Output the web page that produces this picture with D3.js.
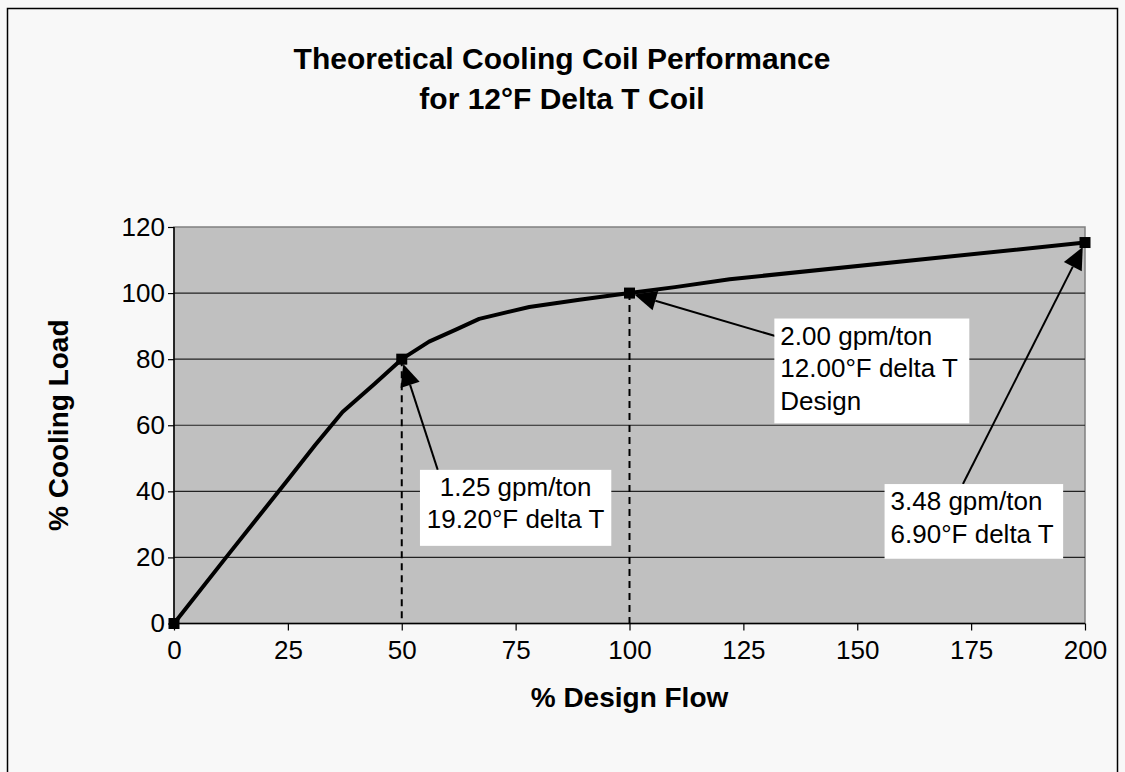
<!DOCTYPE html>
<html>
<head>
<meta charset="utf-8">
<script src="https://cdn.jsdelivr.net/npm/d3@7"></script>
<style>
  html, body { margin: 0; padding: 0; background: #f8f8f8; }
  svg { display: block; font-family: "Liberation Sans", Arial, sans-serif; }
</style>
</head>
<body>
<svg id="chart" width="1125" height="772"></svg>
<script>
// chart values
var flowPct = [0, 12, 25, 31, 37, 44, 50, 56, 62, 67, 78, 89, 100, 110, 122, 200];
var loadPct = [0, 21, 43.5, 54, 64, 72.5, 80, 85.3, 89, 92.2, 95.8, 98, 100, 101.8, 104.2, 115.3];
var markedFlow = [0, 50, 100, 200];
var dropFlow = [50, 100];
var xTicks = [0, 25, 50, 75, 100, 125, 150, 175, 200];
var yTicks = [0, 20, 40, 60, 80, 100, 120];
var titleLines = ['Theoretical Cooling Coil Performance', 'for 12°F Delta T Coil'];
var noteLines = [
    ['1.25 gpm/ton', '19.20°F delta T'],
    ['2.00 gpm/ton', '12.00°F delta T', 'Design'],
    ['3.48 gpm/ton', '6.90°F delta T']
];
var noteTarget = [[50, 80], [100, 100], [200, 115.3]];

// layout of the note boxes, in data units (x0, x1, yTop, yBottom) + arrow start
var noteBox = [[54, 96, 46.5, 23.5], [131.8, 174.6, 92.3, 60.6], [156, 195.2, 42.2, 19.6]];
var noteFrom = [[57.9, 46.5], [132, 87], [173.2, 42.2]];
var noteAlign = ['middle', 'start', 'start'];

function main() {
    var svg = d3.select('#chart');
    var left = 174, right = 1085, top = 227, bottom = 623.5;

    var x = d3.scaleLinear().domain([0, 200]).range([left, right]);
    var y = d3.scaleLinear().domain([0, 120]).range([bottom, top]);

    // outer frame
    svg.append('rect').attr('x', 7.5).attr('y', 8.5).attr('width', 1110).attr('height', 780)
        .attr('fill', '#f8f8f8').attr('stroke', '#000').attr('stroke-width', 1.5);

    // plot area
    svg.append('rect').attr('x', left).attr('y', top)
        .attr('width', right - left).attr('height', bottom - top)
        .attr('fill', '#c0c0c0').attr('stroke', '#808080').attr('stroke-width', 1.5);

    svg.append('g').selectAll('line').data(yTicks.slice(1, -1)).enter().append('line')
        .attr('x1', left).attr('x2', right)
        .attr('y1', function(d) { return y(d); }).attr('y2', function(d) { return y(d); })
        .attr('stroke', '#222').attr('stroke-width', 1.2);

    var xAxis = svg.append('g').attr('transform', 'translate(0,' + bottom + ')')
        .call(d3.axisBottom(x).tickValues(xTicks).tickSize(7).tickPadding(10));
    var yAxis = svg.append('g').attr('transform', 'translate(' + left + ',0)')
        .call(d3.axisLeft(y).tickValues(yTicks).tickSize(6).tickPadding(3));
    [xAxis, yAxis].forEach(function(a) {
        a.selectAll('path').attr('stroke', '#000').attr('stroke-width', 1.5);
        a.selectAll('line').attr('stroke', '#000').attr('stroke-width', 1.2);
        a.selectAll('text').attr('font-size', 26).attr('fill', '#000')
            .attr('font-family', '"Liberation Sans", Arial, sans-serif');
    });
    xAxis.select('.domain').attr('d', 'M' + left + ',0H' + right);
    yAxis.select('.domain').attr('d', 'M0,' + top + 'V' + bottom);

    // dashed drop lines
    svg.append('g').selectAll('line').data(dropFlow).enter().append('line')
        .attr('x1', function(d) { return x(d); }).attr('x2', function(d) { return x(d); })
        .attr('y1', function(d) { return y(loadPct[flowPct.indexOf(d)]); }).attr('y2', bottom)
        .attr('stroke', '#000').attr('stroke-width', 2).attr('stroke-dasharray', '7,5');

    // curve
    var pts = flowPct.map(function(f, i) { return [f, loadPct[i]]; });
    svg.append('path').datum(pts)
        .attr('d', d3.line().x(function(d) { return x(d[0]); }).y(function(d) { return y(d[1]); }))
        .attr('fill', 'none').attr('stroke', '#000').attr('stroke-width', 4).attr('stroke-linejoin', 'round');

    svg.append('g').selectAll('rect').data(pts.filter(function(d) { return markedFlow.indexOf(d[0]) >= 0; }))
        .enter().append('rect')
        .attr('x', function(d) { return x(d[0]) - 5.5; }).attr('y', function(d) { return y(d[1]) - 5.5; })
        .attr('width', 11).attr('height', 11).attr('fill', '#000');

    // note boxes and arrows
    noteLines.forEach(function(lines, i) {
        var b = noteBox[i];
        var bx = x(b[0]), by = y(b[2]), bw = x(b[1]) - x(b[0]), bh = y(b[3]) - y(b[2]);
        var fx = x(noteFrom[i][0]), fy = y(noteFrom[i][1]);
        var tx = x(noteTarget[i][0]), ty = y(noteTarget[i][1]);
        var ang = Math.atan2(ty - fy, tx - fx);
        // stop the arrow at the marker edge
        var tipX = tx - Math.cos(ang) * 5, tipY = ty - Math.sin(ang) * 5;
        var headL = 22, headW = 10;
        var baseX = tipX - Math.cos(ang) * headL, baseY = tipY - Math.sin(ang) * headL;

        svg.append('line').attr('x1', fx).attr('y1', fy).attr('x2', baseX).attr('y2', baseY)
            .attr('stroke', '#000').attr('stroke-width', 2);
        svg.append('path')
            .attr('d', 'M' + tipX + ',' + tipY +
                'L' + (baseX - Math.sin(ang) * headW) + ',' + (baseY + Math.cos(ang) * headW) +
                'L' + (baseX + Math.sin(ang) * headW) + ',' + (baseY - Math.cos(ang) * headW) + 'Z')
            .attr('fill', '#000');

        svg.append('rect').attr('x', bx).attr('y', by).attr('width', bw).attr('height', bh).attr('fill', '#fff');
        var t = svg.append('text').attr('font-size', 26).attr('fill', '#000').attr('text-anchor', noteAlign[i]);
        lines.forEach(function(s, k) {
            t.append('tspan')
                .attr('x', noteAlign[i] === 'middle' ? bx + bw / 2 : bx + 6)
                .attr('y', by + 26 + k * 32.5).text(s);
        });
    });

    // titles
    svg.append('g').selectAll('text').data(titleLines).enter().append('text')
        .attr('x', 562).attr('y', function(d, i) { return 69 + i * 40; })
        .attr('text-anchor', 'middle').attr('font-size', 30).attr('font-weight', 'bold').text(function(d) { return d; });

    svg.append('text').attr('x', (left + right) / 2).attr('y', 707).attr('text-anchor', 'middle')
        .attr('font-size', 28).attr('font-weight', 'bold').text('% Design Flow');
    svg.append('text').attr('transform', 'translate(68,' + (top + bottom) / 2 + ') rotate(-90)')
        .attr('text-anchor', 'middle').attr('font-size', 28).attr('font-weight', 'bold').text('% Cooling Load');
}

main();
</script>
</body>
</html>
